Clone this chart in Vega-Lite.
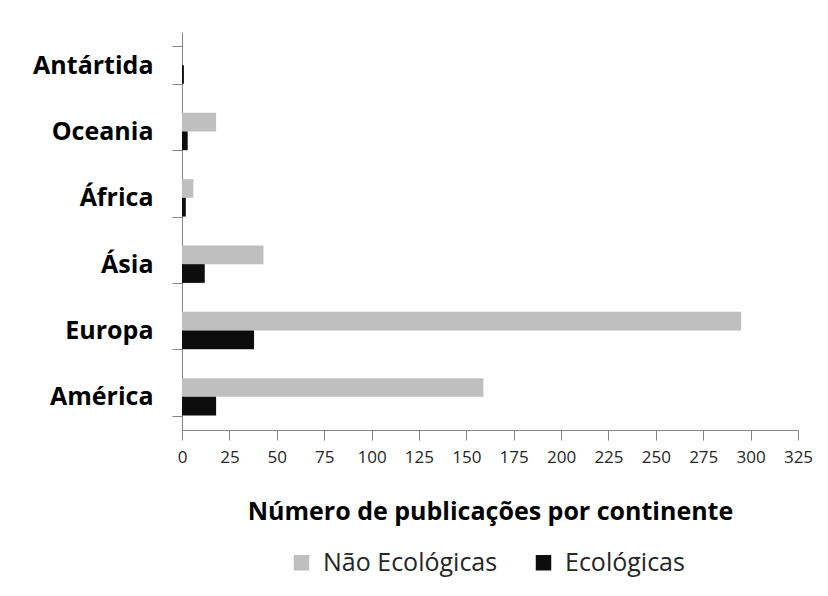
{
  "$schema": "https://vega.github.io/schema/vega-lite/v6.json",
  "width": 616,
  "height": 398,
  "autosize": {"type": "none"},
  "padding": {"left": 182, "top": 32, "right": 30, "bottom": 166},
  "background": "white",
  "config": {
    "view": {"stroke": null},
    "font": "Open Sans"
  },
  "data": {
    "values": [
      {"continente": "América", "tipo": "Não Ecológicas", "n": 159},
      {"continente": "América", "tipo": "Ecológicas", "n": 18},
      {"continente": "Europa", "tipo": "Não Ecológicas", "n": 295},
      {"continente": "Europa", "tipo": "Ecológicas", "n": 38},
      {"continente": "Ásia", "tipo": "Não Ecológicas", "n": 43},
      {"continente": "Ásia", "tipo": "Ecológicas", "n": 12},
      {"continente": "África", "tipo": "Não Ecológicas", "n": 6},
      {"continente": "África", "tipo": "Ecológicas", "n": 2},
      {"continente": "Oceania", "tipo": "Não Ecológicas", "n": 18},
      {"continente": "Oceania", "tipo": "Ecológicas", "n": 3},
      {"continente": "Antártida", "tipo": "Não Ecológicas", "n": 0},
      {"continente": "Antártida", "tipo": "Ecológicas", "n": 1}
    ]
  },
  "mark": {"type": "bar"},
  "encoding": {
    "y": {
      "field": "continente",
      "type": "nominal",
      "sort": ["Antártida", "Oceania", "África", "Ásia", "Europa", "América"],
      "scale": {"paddingInner": 0.436, "paddingOuter": 0.218},
      "axis": {
        "title": null,
        "tickBand": "extent",
        "labelFontSize": 25,
        "labelFontWeight": "bold",
        "labelColor": "#000000",
        "labelPadding": 19,
        "labelLimit": 300,
        "tickSize": 10,
        "domainColor": "#868686",
        "tickColor": "#868686"
      }
    },
    "yOffset": {
      "field": "tipo",
      "sort": ["Não Ecológicas", "Ecológicas"],
      "scale": {"paddingInner": 0, "paddingOuter": 0}
    },
    "x": {
      "field": "n",
      "type": "quantitative",
      "scale": {"domain": [0, 325], "nice": false},
      "axis": {
        "values": [0, 25, 50, 75, 100, 125, 150, 175, 200, 225, 250, 275, 300, 325],
        "grid": false,
        "title": "Número de publicações por continente",
        "titleFontSize": 25,
        "titleFontWeight": "bold",
        "titleColor": "#000000",
        "titlePadding": 34,
        "labelFontSize": 17,
        "labelColor": "#262626",
        "labelPadding": 9,
        "labelFlush": false,
        "labelOverlap": false,
        "tickSize": 10,
        "domainColor": "#868686",
        "tickColor": "#868686"
      }
    },
    "color": {
      "field": "tipo",
      "type": "nominal",
      "scale": {
        "domain": ["Não Ecológicas", "Ecológicas"],
        "range": ["#BFBFBF", "#0D0D0D"]
      },
      "legend": {
        "title": null,
        "orient": "none",
        "direction": "horizontal",
        "legendX": 107,
        "legendY": 518,
        "symbolType": "square",
        "symbolSize": 240,
        "symbolStrokeWidth": 0,
        "labelFontSize": 25,
        "labelColor": "#262626",
        "labelLimit": 400,
        "labelOffset": 9,
        "columnPadding": 33
      }
    }
  }
}
